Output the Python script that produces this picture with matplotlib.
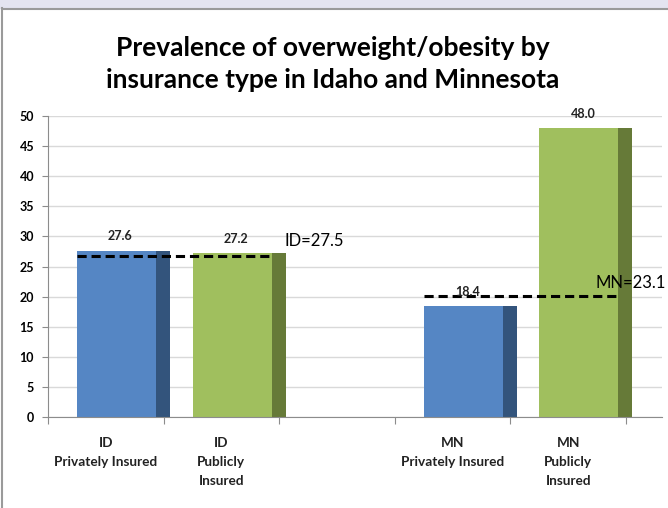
import matplotlib
matplotlib.use("Agg")
import matplotlib.pyplot as plt
from matplotlib.patches import Rectangle
from matplotlib.lines import Line2D

plt.rcParams['font.family'] = ['Lato', 'DejaVu Sans']

# data
categories = ["ID\nPrivately Insured", "ID\nPublicly\nInsured", "",
              "MN\nPrivately Insured", "MN\nPublicly\nInsured"]
slots = [0, 1, 3, 4]
values = [27.6, 27.2, 18.4, 48.0]
value_labels = ["27.6", "27.2", "18.4", "48.0"]
# dashed state-average lines (drawn level) and their labels
avg_levels = [26.8, 20.1]
avg_spans = [(0, 1), (3, 4)]
avg_labels = ["ID=27.5", "MN=23.1"]
avg_label_pos = [(2.05, 29.2), (4.74, 22.3)]

front_cols = ["#5586C4", "#A0BF5E", "#5586C4", "#A0BF5E"]
side_cols = ["#33547C", "#667A38", "#33547C", "#667A38"]

W, H = 668, 508
fig = plt.figure(figsize=(W / 100, H / 100), dpi=100)

# top strip and border of the chart frame
fig.patches.append(Rectangle((0, (H - 8) / H), 1, 8 / H, transform=fig.transFigure,
                             color="#E4E4F0", zorder=0))
fig.lines.append(Line2D([2 / W, 2 / W], [0, (H - 8) / H], transform=fig.transFigure,
                        color="#9A9A9A", lw=1.5))
fig.lines.append(Line2D([2 / W, 1], [(H - 8.5) / H, (H - 8.5) / H], transform=fig.transFigure,
                        color="#9A9A9A", lw=1.5))

x0, x1 = 48, 662
y0, y1 = 417, 116
slot_px = 115.6
ax = fig.add_axes([x0 / W, (H - y0) / H, (x1 - x0) / W, (y0 - y1) / H])
ax.set_xlim(0, (x1 - x0) / slot_px)
ax.set_ylim(0, 50)

off = 29 / slot_px
fw = 79 / slot_px
sw = 14 / slot_px
for s, v, fc, sc, lab in zip(slots, values, front_cols, side_cols, value_labels):
    ax.bar(s + off, v, width=fw, align="edge", color=fc, zorder=2)
    ax.bar(s + off + fw, v, width=sw, align="edge", color=sc, zorder=2)
    ax.text(s + off + fw * 0.55, v + 2.4, lab, ha="center", va="center",
            fontsize=9, fontweight="bold", color="#222222", zorder=4)

for lvl, (a, b), lab, (tx, ty) in zip(avg_levels, avg_spans, avg_labels, avg_label_pos):
    ax.plot([a + off, b + off + fw], [lvl, lvl], ls=(0, (3, 1.6)), color="black",
            lw=2.2, zorder=3)
    ax.text(tx, ty, lab, fontsize=12, color="black", va="center", ha="left", zorder=4)

ax.set_yticks(range(0, 51, 5))
ax.yaxis.grid(True, color="#D9D9D9", lw=1)
ax.set_axisbelow(True)
ax.set_xticks([0, 1, 2, 3, 4, 5])
ax.set_xticklabels([])
ax.tick_params(axis="x", length=5, color="#8C8C8C", direction="out")
ax.tick_params(axis="y", length=4, color="#8C8C8C", labelsize=9, pad=6)
for t in ax.get_yticklabels():
    t.set_fontweight("bold")
for sp in ["top", "right"]:
    ax.spines[sp].set_visible(False)
ax.spines["left"].set_color("#8C8C8C")
ax.spines["bottom"].set_color("#8C8C8C")

for i, c in enumerate(categories):
    if c:
        ax.text(i + 0.5, -3.4, c, ha="center", va="top", fontsize=9.8,
                fontweight="bold", color="#222222", linespacing=1.68)

fig.text(333 / W, (H - 64) / H, "Prevalence of overweight/obesity by\ninsurance type in Idaho and Minnesota",
         ha="center", va="center", fontsize=19, fontweight="bold", linespacing=1.45)

fig.savefig("out.png", dpi=100)
